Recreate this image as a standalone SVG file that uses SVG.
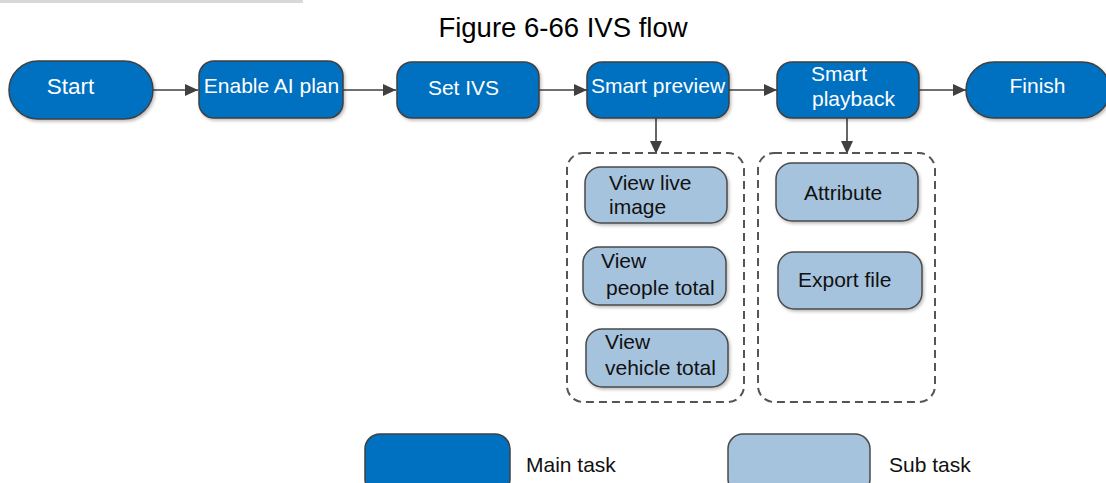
<svg xmlns="http://www.w3.org/2000/svg" width="1106" height="483" viewBox="0 0 1106 483">
<style>
text{font-family:"Liberation Sans",Arial,sans-serif;font-size:21px}
.main rect{fill:#0070c0;stroke:#3f3f3f;stroke-width:1.5}
.main text{fill:#ffffff}
.sub rect{fill:#a6c3de;stroke:#4a4a4a;stroke-width:1.5}
.sub text{fill:#111111}
.grp{fill:none;stroke:#555555;stroke-width:2;stroke-dasharray:8 5}
.conn line{stroke:#404040;stroke-width:1.6;fill:none}
.c{text-anchor:middle}
.big{font-size:22.5px}
</style>
<defs>
<marker id="arr" markerUnits="userSpaceOnUse" markerWidth="14" markerHeight="12" refX="13" refY="6" orient="auto">
<path d="M0,0 L13,6 L0,12 Z" fill="#404040"/>
</marker>
<filter id="sh" x="-10%" y="-10%" width="130%" height="140%">
<feDropShadow dx="1.5" dy="2" stdDeviation="1.5" flood-color="#000" flood-opacity="0.25"/>
</filter>
</defs>
<rect x="0" y="0" width="303" height="3" fill="#d8d8d8"/>
<text id="title" x="563" y="37" class="c" style="font-size:27.5px;fill:#000">Figure 6-66 IVS flow</text>

<g id="connectors" class="conn">
<line x1="153" y1="90" x2="198" y2="90" marker-end="url(#arr)"/>
<line x1="343" y1="90" x2="396" y2="90" marker-end="url(#arr)"/>
<line x1="539" y1="90" x2="587" y2="90" marker-end="url(#arr)"/>
<line x1="729" y1="90" x2="777" y2="90" marker-end="url(#arr)"/>
<line x1="919" y1="90" x2="966" y2="90" marker-end="url(#arr)"/>
<line x1="656" y1="118" x2="656" y2="154" marker-end="url(#arr)"/>
<line x1="847" y1="118" x2="847" y2="154" marker-end="url(#arr)"/>
</g>

<g id="start" class="main"><rect x="9" y="61" width="144" height="58" rx="29" filter="url(#sh)"/><text x="70.5" y="94" class="c big">Start</text></g>
<g id="enable-ai-plan" class="main"><rect x="199" y="61" width="144" height="57" rx="15" filter="url(#sh)"/><text x="271.5" y="93" class="c">Enable AI plan</text></g>
<g id="set-ivs" class="main"><rect x="397" y="62" width="142" height="56" rx="15" filter="url(#sh)"/><text x="463.5" y="95" class="c">Set IVS</text></g>
<g id="smart-preview" class="main"><rect x="587" y="62" width="142" height="56" rx="15" filter="url(#sh)"/><text x="658" y="93" class="c">Smart preview</text></g>
<g id="smart-playback" class="main"><rect x="777" y="62" width="142" height="56" rx="15" filter="url(#sh)"/><text x="811" y="81">Smart</text><text x="812" y="106">playback</text></g>
<g id="finish" class="main"><rect x="966" y="62" width="144" height="56" rx="28" filter="url(#sh)"/><text x="1037.5" y="93" class="c">Finish</text></g>

<g id="preview-group"><rect class="grp" x="567" y="153" width="177" height="249" rx="16"/></g>
<g id="playback-group"><rect class="grp" x="758" y="153" width="177" height="249" rx="16"/></g>

<g id="view-live-image" class="sub"><rect x="585" y="167" width="142" height="56" rx="16" filter="url(#sh)"/><text x="609" y="190">View live</text><text x="609" y="214">image</text></g>
<g id="view-people-total" class="sub"><rect x="583" y="247" width="143" height="58" rx="16" filter="url(#sh)"/><text x="601" y="268">View</text><text x="606" y="295">people total</text></g>
<g id="view-vehicle-total" class="sub"><rect x="586" y="329" width="142" height="58" rx="16" filter="url(#sh)"/><text x="605" y="349">View</text><text x="605" y="375">vehicle total</text></g>
<g id="attribute" class="sub"><rect x="776" y="163" width="142" height="58" rx="16" filter="url(#sh)"/><text x="804" y="200">Attribute</text></g>
<g id="export-file" class="sub"><rect x="778" y="252" width="144" height="57" rx="16" filter="url(#sh)"/><text x="798" y="287">Export file</text></g>

<g id="legend-main" class="main"><rect x="365" y="434" width="145" height="60" rx="15"/><text x="526" y="472" style="fill:#111">Main task</text></g>
<g id="legend-sub" class="sub"><rect x="728" y="434" width="142" height="60" rx="15"/><text x="889" y="472">Sub task</text></g>
</svg>
